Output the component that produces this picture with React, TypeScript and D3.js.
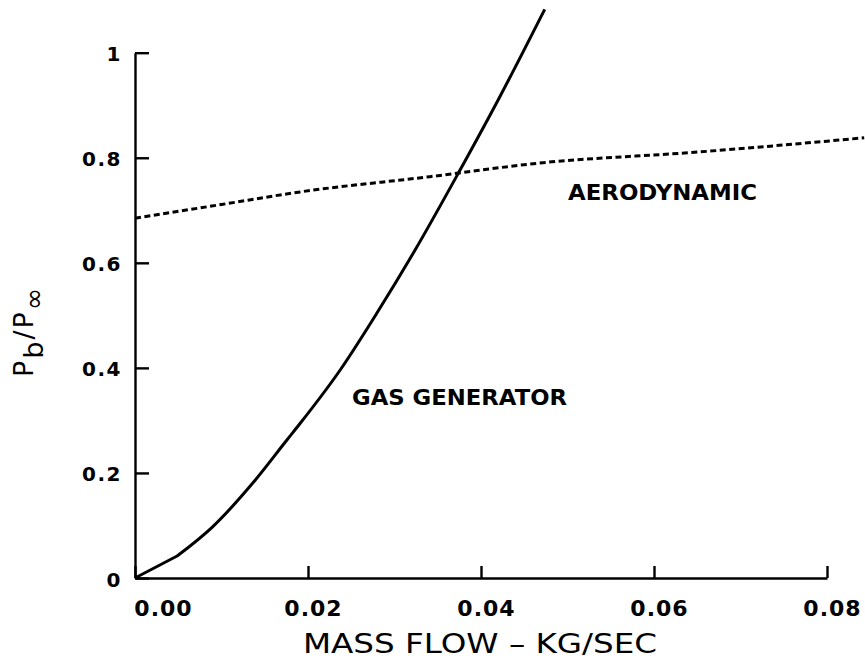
import React, { useEffect, useRef } from 'react';
import * as d3 from 'd3';

const xTicks = [0, 0.02, 0.04, 0.06, 0.08];
const xTickLabels = ['0.00', '0.02', '0.04', '0.06', '0.08'];
const yTicks = [0, 0.2, 0.4, 0.6, 0.8, 1];
const yTickLabels = ['0', '0.2', '0.4', '0.6', '0.8', '1'];

const gasFlow = [0, 0.00487, 0.00891, 0.01391, 0.01756, 0.0191, 0.02372, 0.02795, 0.03238, 0.03737, 0.04218, 0.04737];
const gasRatio = [0, 0.0419, 0.0965, 0.1866, 0.2627, 0.2945, 0.396, 0.5039, 0.6244, 0.7704, 0.9162, 1.0826];

const aeroFlow = [0, 0.01, 0.0191, 0.0341, 0.0468, 0.0652, 0.0843];
const aeroRatio = [0.685, 0.711, 0.735, 0.764, 0.79, 0.811, 0.838];

const xTitle = 'MASS FLOW – KG/SEC';
const gasLabel = 'GAS GENERATOR';
const aeroLabel = 'AERODYNAMIC';

const W = 865;
const H = 663;
const FONT = "'DejaVu Sans', sans-serif";

export default function App() {
  const ref = useRef<SVGSVGElement | null>(null);

  useEffect(() => {
    const svg = d3.select(ref.current);
    svg.selectAll('*').remove();

    const x = d3.scaleLinear().domain([0, 0.08]).range([135, 827]);
    const y = d3.scaleLinear().domain([0, 1]).range([578, 52.7]);

    // Y axis
    const yAxis = d3
      .axisLeft(y)
      .tickValues(yTicks)
      .tickSizeInner(-14)
      .tickSizeOuter(0)
      .tickPadding(13)
      .tickFormat((_d, i) => yTickLabels[i]);
    const gy = svg.append('g').attr('transform', `translate(${x(0)},0)`).call(yAxis);
    gy.attr('font-size', null).attr('font-family', null);
    gy.select('.domain').attr('stroke', '#000').attr('stroke-width', 2.4);
    gy.selectAll('.tick line').attr('stroke', '#000').attr('stroke-width', 2.4);
    gy.selectAll('.tick text')
      .attr('fill', '#000')
      .attr('dy', '0.4em')
      .attr('font-family', FONT)
      .attr('font-weight', 'bold')
      .attr('font-size', 20)
      .attr('letter-spacing', 1.5);

    // X axis
    const xAxis = d3
      .axisBottom(x)
      .tickValues(xTicks)
      .tickSizeInner(-12)
      .tickSizeOuter(0)
      .tickPadding(22)
      .tickFormat((_d, i) => xTickLabels[i]);
    const gx = svg.append('g').attr('transform', `translate(0,${y(0)})`).call(xAxis);
    gx.attr('font-size', null).attr('font-family', null);
    gx.select('.domain').attr('stroke', '#000').attr('stroke-width', 2.4);
    gx.selectAll('.tick line').attr('stroke', '#000').attr('stroke-width', 2.4);
    gx.selectAll('.tick text')
      .attr('fill', '#000')
      .attr('dx', (_d: any, i: number) => (i === 0 ? 28 : 5))
      .attr('font-family', FONT)
      .attr('font-weight', 'bold')
      .attr('font-size', 22)
      .attr('letter-spacing', 1);

    const line = d3
      .line<[number, number]>()
      .x((d) => x(d[0]))
      .y((d) => y(d[1]));

    // Gas generator curve: straight first segment, then smooth
    const gasData = gasFlow.map((f, i) => [f, gasRatio[i]] as [number, number]);
    const firstSeg = line.curve(d3.curveLinear)(gasData.slice(0, 2)) as string;
    const restSeg = line.curve(d3.curveMonotoneX)(gasData.slice(1)) as string;
    svg
      .append('path')
      .attr('d', firstSeg + restSeg.replace(/^M/, 'L'))
      .attr('fill', 'none')
      .attr('stroke', '#000')
      .attr('stroke-width', 3)
      .attr('stroke-linejoin', 'round');

    const aeroData = aeroFlow.map((f, i) => [f, aeroRatio[i]] as [number, number]);
    svg
      .append('path')
      .attr('d', line.curve(d3.curveMonotoneX)(aeroData) as string)
      .attr('fill', 'none')
      .attr('stroke', '#000')
      .attr('stroke-width', 3)
      .attr('stroke-dasharray', '6 3.5');

    // Curve labels
    svg
      .append('text')
      .attr('x', 352)
      .attr('y', 405)
      .attr('textLength', 215)
      .attr('lengthAdjust', 'spacingAndGlyphs')
      .attr('font-family', FONT)
      .attr('font-weight', 'bold')
      .attr('font-size', 22)
      .text(gasLabel);
    svg
      .append('text')
      .attr('x', 568)
      .attr('y', 200)
      .attr('textLength', 189)
      .attr('lengthAdjust', 'spacingAndGlyphs')
      .attr('font-family', FONT)
      .attr('font-weight', 'bold')
      .attr('font-size', 22)
      .text(aeroLabel);

    // X title
    svg
      .append('text')
      .attr('x', 303)
      .attr('y', 653)
      .attr('textLength', 354)
      .attr('lengthAdjust', 'spacingAndGlyphs')
      .attr('font-family', FONT)
      .attr('font-size', 27)
      .text(xTitle);

    // Y title (rotated)
    const yt = svg
      .append('text')
      .attr('transform', 'translate(33,377) rotate(-90)')
      .attr('x', 0)
      .attr('y', 0)
      .attr('letter-spacing', 2)
      .attr('font-family', FONT)
      .attr('font-size', 27);
    yt.append('tspan').text('P');
    yt.append('tspan').attr('dy', 10).text('b');
    yt.append('tspan').attr('dy', -10).text('/P');
    yt.append('tspan').attr('dy', 10).text('∞');
  }, []);

  return (
    <svg
      ref={ref}
      width={W}
      height={H}
      style={{ position: 'absolute', left: 0, top: 0, background: '#fff' }}
    />
  );
}
